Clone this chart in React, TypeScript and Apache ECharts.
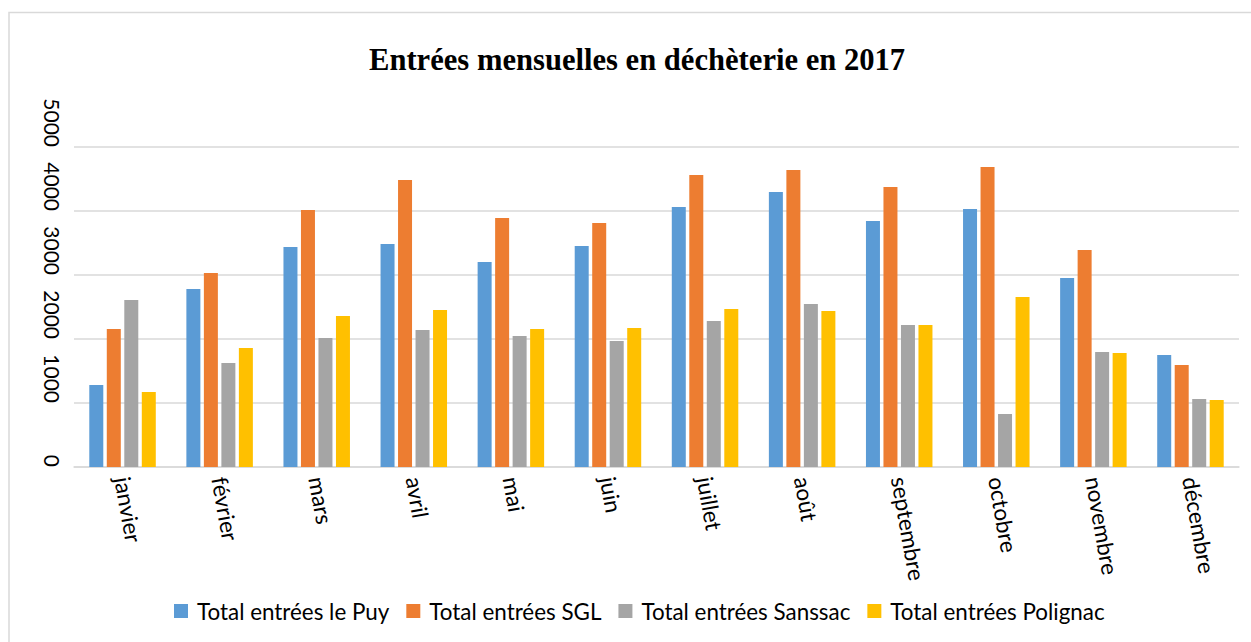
import React, { useEffect, useRef } from "react";
import * as echarts from "echarts";

const months = ["janvier", "février", "mars", "avril", "mai", "juin", "juillet", "août", "septembre", "octobre", "novembre", "décembre"];
const seriesNames = ["Total entrées le Puy", "Total entrées SGL", "Total entrées Sanssac", "Total entrées Polignac"];
const puy = [1281, 2781, 3437, 3484, 3203, 3453, 4063, 4297, 3844, 4031, 2953, 1750];
const sgl = [2156, 3031, 4016, 4484, 3891, 3813, 4563, 4641, 4375, 4688, 3391, 1594];
const sanssac = [2609, 1625, 2016, 2141, 2047, 1969, 2281, 2547, 2219, 828, 1797, 1063];
const polignac = [1172, 1859, 2359, 2453, 2156, 2172, 2469, 2438, 2219, 2656, 1781, 1047];
const colors = ["#5B9BD5", "#ED7D31", "#A5A5A5", "#FFC000"];

export default function App() {
  const ref = useRef<HTMLDivElement>(null);
  useEffect(() => {
    if (!ref.current) return;
    const chart = echarts.init(ref.current, undefined, { renderer: "svg" });
    const values = [puy, sgl, sanssac, polignac];
    chart.setOption({
      animation: false,
      backgroundColor: "#ffffff",
      color: colors,
      title: {
        text: "Entrées mensuelles en déchèterie en 2017",
        left: 369,
        top: 44,
        padding: 0,
        textAlign: "left",
        textStyle: { fontFamily: "'Liberation Serif', serif", fontWeight: "bold", fontSize: 30.6, color: "#000" },
      },
      graphic: [
        {
          type: "rect",
          shape: { x: 9, y: 12.5, width: 1400, height: 800 },
          style: { fill: "none", stroke: "#d9d9d9", lineWidth: 1.5 },
          silent: true,
        },
      ],
      legend: {
        data: seriesNames,
        left: 174,
        top: 600,
        padding: 0,
        itemWidth: 14,
        itemHeight: 14,
        itemGap: 17,
        icon: "rect",
        textStyle: { fontFamily: "Lato, 'Noto Sans', sans-serif", fontSize: 22.4, color: "#000", padding: [0, 0, 0, 4] },
      },
      grid: { left: 74, right: 12, top: 147, bottom: 175, containLabel: false },
      xAxis: {
        type: "category",
        data: months,
        axisLine: { show: true, lineStyle: { color: "#d9d9d9", width: 1.5 } },
        axisTick: { show: false },
        axisLabel: {
          rotate: -80,
          margin: 10,
          interval: 0,
          fontFamily: "Lato, 'Noto Sans', sans-serif",
          fontSize: 22.5,
          color: "#000",
        },
      },
      yAxis: {
        type: "value",
        min: 0,
        max: 5000,
        interval: 1000,
        axisLine: { show: false },
        axisTick: { show: false },
        splitLine: { lineStyle: { color: "#d9d9d9", width: 1.5 } },
        axisLabel: {
          rotate: -90,
          align: "right",
          verticalAlign: "middle",
          margin: 22,
          formatter: (v: number) => String(v),
          fontFamily: "Lato, 'Noto Sans', sans-serif",
          fontSize: 21,
          color: "#000",
        },
      },
      series: seriesNames.map((name, i) => ({
        name,
        type: "bar",
        data: values[i],
        barWidth: 14,
        barGap: "25%",
        itemStyle: { color: colors[i] },
      })),
    });
    return () => chart.dispose();
  }, []);
  return <div ref={ref} style={{ position: "fixed", left: 0, top: 0, width: 1251, height: 642 }} />;
}
